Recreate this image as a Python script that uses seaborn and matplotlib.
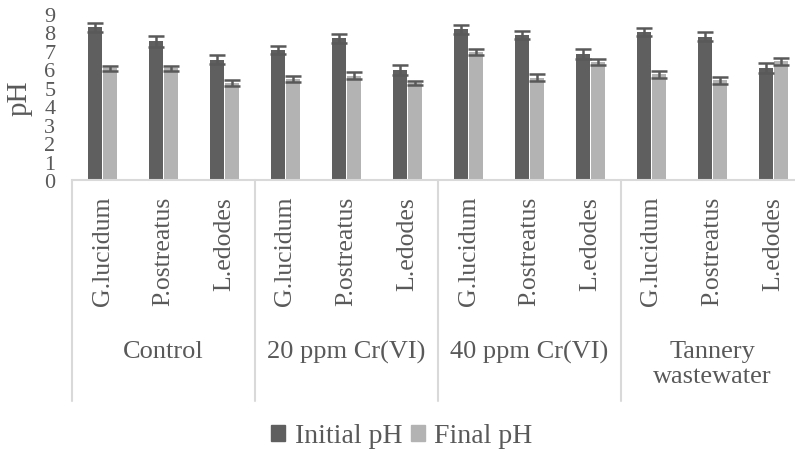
import matplotlib
matplotlib.use("Agg")
import matplotlib.pyplot as plt
import matplotlib.patches as mpatches
import seaborn as sns
import pandas as pd

# ---- data ----
groups = ["Control", "20 ppm Cr(VI)", "40 ppm Cr(VI)", "Tannery\nwastewater"]
species = ["G.lucidum", "P.ostreatus", "L.edodes"]
series = ["Initial pH", "Final pH"]
initial_ph = [8.28, 7.52, 6.52, 7.05, 7.68, 5.97, 8.17, 7.86, 6.83, 8.03, 7.77, 6.07]
final_ph = [6.06, 6.06, 5.26, 5.48, 5.66, 5.26, 6.92, 5.55, 6.42, 5.73, 5.41, 6.43]
initial_err = [0.23, 0.31, 0.25, 0.23, 0.25, 0.27, 0.25, 0.22, 0.25, 0.22, 0.25, 0.25]
final_err = [0.14, 0.14, 0.16, 0.16, 0.18, 0.13, 0.16, 0.18, 0.16, 0.18, 0.18, 0.20]
y_ticks = [0, 1, 2, 3, 4, 5, 6, 7, 8, 9]

colors = ["#5f5f5f", "#b3b3b3"]
text_color = "#595959"
line_color = "#d9d9d9"

# ---- long table ----
slots = [f"{g}|{s}" for g in groups for s in species]
rows = []
for i, slot in enumerate(slots):
    rows.append({"slot": slot, "series": series[0], "pH": initial_ph[i]})
    rows.append({"slot": slot, "series": series[1], "pH": final_ph[i]})
df = pd.DataFrame(rows)

sns.set_style("white")
plt.rcParams["font.family"] = ["Liberation Serif", "DejaVu Serif"]

W, H = 795, 456
fig = plt.figure(figsize=(W / 100, H / 100), dpi=100)
ax_left, ax_right, ax_top, ax_bot = 72, 804, 15, 181
ax = fig.add_axes([ax_left / W, (H - ax_bot) / H, (ax_right - ax_left) / W, (ax_bot - ax_top) / H])

sns.barplot(data=df, x="slot", y="pH", hue="series", order=slots, hue_order=series,
            palette=colors, width=0.51, gap=0.12, errorbar=None, linewidth=0,
            legend=False, ax=ax)

errs = [initial_err, final_err]
vals = [initial_ph, final_ph]
for k, cont in enumerate(ax.containers[:2]):
    xs = [b.get_x() + b.get_width() / 2 for b in cont]
    ax.errorbar(xs, vals[k], yerr=errs[k], fmt="none", ecolor="#595959",
                elinewidth=1.8, capsize=5.5, capthick=1.8, zorder=5)

ax.set_xlim(-0.5, len(slots) - 0.5)
ax.set_ylim(0, 9)
ax.set_yticks(y_ticks)
ax.set_yticklabels([str(t) for t in y_ticks], fontsize=16, color=text_color)
ax.set_xticks(range(len(slots)))
ax.set_xticklabels([s for g in groups for s in species], rotation=90,
                   fontsize=18.5, color=text_color)
ax.tick_params(axis="x", length=0, pad=11.5)
ax.tick_params(axis="y", length=0, pad=12)
ax.set_xlabel("")
ax.set_ylabel("pH", fontsize=21, color=text_color)
ax.yaxis.set_label_coords((33 - ax_left) / (ax_right - ax_left), 0.5)

for sp in ["left", "right", "top"]:
    ax.spines[sp].set_visible(False)
ax.spines["bottom"].set_color(line_color)
ax.spines["bottom"].set_linewidth(1.5)

# group separators and labels
axh = ax_bot - ax_top
sep_bottom = -(402 - ax_bot) / axh
trans = ax.get_xaxis_transform()
for gi in range(len(groups) + 1):
    xsep = gi * len(species) - 0.5
    ax.plot([xsep, xsep], [0, sep_bottom], transform=trans, color=line_color,
            lw=1.5, clip_on=False)
label_top = -(341 - ax_bot) / axh
for gi, g in enumerate(groups):
    xc = gi * len(species) + (len(species) - 1) / 2
    ax.text(xc, label_top, g, transform=trans, ha="center", va="top",
            fontsize=19, color=text_color, linespacing=1.15)

handles = [mpatches.Patch(color=c, label=s) for c, s in zip(colors, series)]
fig.legend(handles=handles, loc="center", bbox_to_anchor=(402 / W, (H - 437) / H),
           ncol=2, frameon=False, fontsize=20, handlelength=0.5, handleheight=0.5,
           handletextpad=0.35, columnspacing=0.3, labelcolor=text_color,
           borderaxespad=0, borderpad=0)

fig.savefig("out.png", dpi=100)
